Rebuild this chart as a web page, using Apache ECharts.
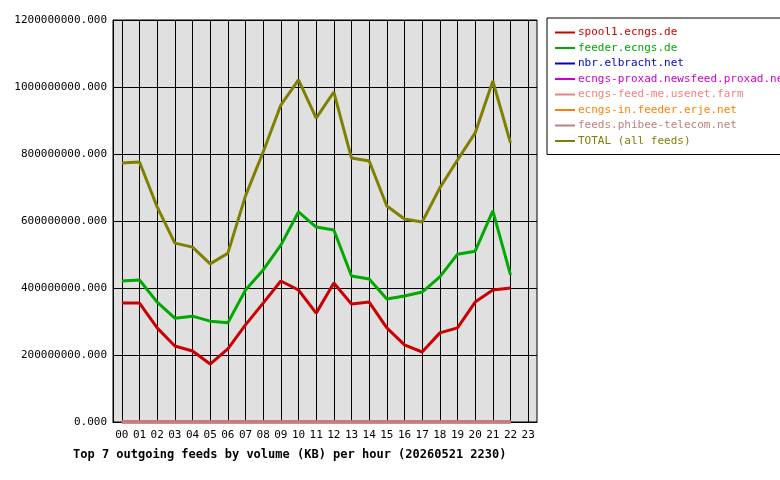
<!DOCTYPE html>
<html>
<head><meta charset="UTF-8"><title>feeds</title></head>
<body style="margin:0;background:#fff">
<div id="main" style="width:780px;height:480px;"></div>
<script src="https://cdn.jsdelivr.net/npm/echarts@6/dist/echarts.min.js"></script>
<script>
var hours = ['00','01','02','03','04','05','06','07','08','09','10','11','12','13','14','15','16','17','18','19','20','21','22','23'];
var names = ['spool1.ecngs.de','feeder.ecngs.de','nbr.elbracht.net','ecngs-proxad.newsfeed.proxad.net','ecngs-feed-me.usenet.farm','ecngs-in.feeder.erje.net','feeds.phibee-telecom.net','TOTAL (all feeds)'];
var colors = ['#cc0000','#00aa00','#0000cc','#cc00cc','#f08080','#ff8000','#c08080','#808000'];
// values in units of 1e8 KB
var spool1 = [3.55,3.55,2.81,2.27,2.12,1.73,2.18,2.90,3.55,4.21,3.94,3.25,4.15,3.52,3.58,2.81,2.30,2.09,2.66,2.81,3.58,3.94,4.0];
var feeder = [4.21,4.24,3.58,3.10,3.16,3.01,2.96,3.94,4.54,5.28,6.27,5.82,5.73,4.36,4.27,3.67,3.76,3.88,4.33,5.01,5.10,6.30,4.39];
var zeros = [0,0,0,0,0,0,0,0,0,0,0,0,0,0,0,0,0,0,0,0,0,0,0];
var total = [7.73,7.76,6.42,5.34,5.22,4.72,5.04,6.75,8.06,9.46,10.21,9.07,9.85,7.88,7.79,6.45,6.06,5.97,6.99,7.82,8.63,10.18,8.33];
var data = [spool1, feeder, zeros, zeros, zeros, zeros, zeros, total];

var font = 'DejaVu Sans Mono';
var series = names.map(function(n, i){
  return {
    name: n, type: 'line', symbol: 'none',
    data: data[i].map(function(v){ return v * 1e8; }),
    lineStyle: {color: colors[i], width: 3},
    itemStyle: {color: colors[i]},
    z: i === 6 ? 10 : 5
  };
});
series[0].markLine = {
  silent: true, symbol: 'none', label: {show: false},
  lineStyle: {color: '#000', type: 'solid', width: 1},
  data: hours.map(function(h){ return {xAxis: h}; })
};
series[0].markLine.z = 1;

var option = {
  animation: false,
  backgroundColor: '#fff',
  grid: {left: 113, right: 243, top: 20, bottom: 58, backgroundColor: '#e0e0e0', show: true, borderColor: '#000', borderWidth: 1},
  title: {text: 'Top 7 outgoing feeds by volume (KB) per hour (20260521 2230)', left: 68, top: 444,
    textStyle: {fontFamily: font, fontSize: 12, fontWeight: 'bold', color: '#000'}},
  legend: {
    orient: 'vertical', left: 547, top: 18, width: 221, padding: [9, 8, 8, 8],
    itemGap: 4.5, itemWidth: 20, itemHeight: 10, icon: 'path://M0,4h20v2h-20z',
    borderColor: '#000', borderWidth: 1,
    data: names.map(function(n, i){ return {name: n, textStyle: {color: colors[i]}}; }),
    textStyle: {fontFamily: font, fontSize: 11, padding: [0,0,0,-2]}
  },
  xAxis: {
    type: 'category', data: hours, boundaryGap: true,
    axisLine: {lineStyle: {color: '#000'}}, axisTick: {show: false},
    splitLine: {show: false},
    axisLabel: {fontFamily: font, fontSize: 11, color: '#000', interval: 0, margin: 8}
  },
  yAxis: {
    type: 'value', min: 0, max: 1200000000, interval: 200000000,
    axisLine: {show: true, lineStyle: {color: '#000'}}, axisTick: {show: false},
    splitLine: {lineStyle: {color: '#000', width: 1}},
    axisLabel: {fontFamily: font, fontSize: 11, color: '#000', margin: 6,
      formatter: function(v){ return v.toFixed(3); }}
  },
  series: series
};
var myChart = echarts.init(document.getElementById('main'));
myChart.setOption(option);
</script>
</body>
</html>
